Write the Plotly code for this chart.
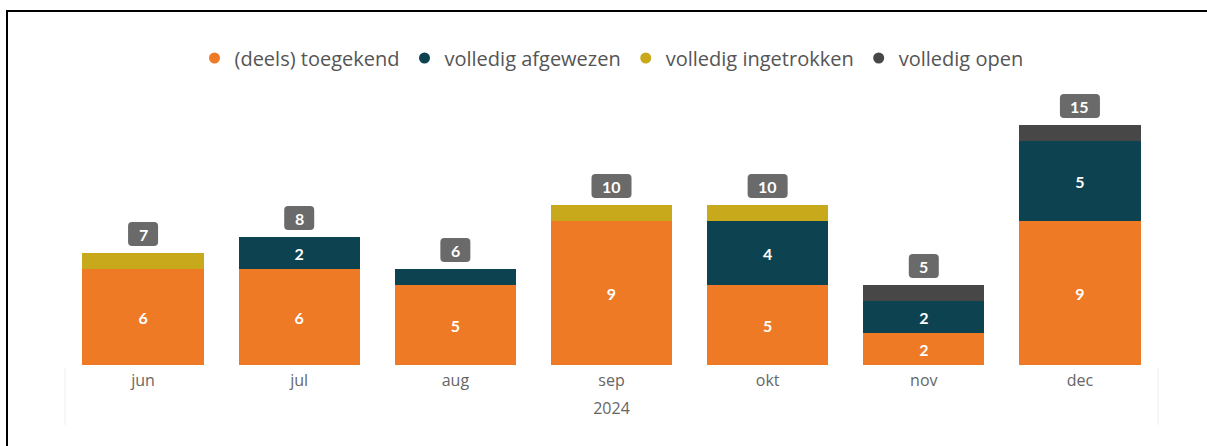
import plotly.graph_objects as go

months = ["jun", "jul", "aug", "sep", "okt", "nov", "dec"]
toegekend = [6, 6, 5, 9, 5, 2, 9]
afgewezen = [0, 2, 1, 0, 4, 2, 5]
ingetrokken = [1, 0, 0, 1, 1, 0, 0]
open_ = [0, 0, 0, 0, 0, 1, 1]
year_label = "2024"

series = [
    ("(deels) toegekend", toegekend, "#EE7A26"),
    ("volledig afgewezen", afgewezen, "#0D4351"),
    ("volledig ingetrokken", ingetrokken, "#C8A91B"),
    ("volledig open", open_, "#474747"),
]

FONT = "Open Sans"
NUMFONT = "Lato"
TOP = 80
BASE = 365
PXU = 16
plot_h = BASE - TOP

fig = go.Figure()
for name, vals, color in series:
    fig.add_trace(go.Bar(
        x=months, y=vals, name=name, showlegend=False, legendgroup=name,
        marker=dict(color=color, line=dict(width=0)),
        text=[str(v) if v >= 2 else "" for v in vals],
        textposition="inside", insidetextanchor="middle", textangle=0,
        textfont=dict(family=NUMFONT, size=16, color="white", weight="bold"),
        constraintext="none",
    ))
# legend entries with round markers
for name, vals, color in series:
    fig.add_trace(go.Scatter(
        x=[months[0]], y=[None], mode="markers", name=name, legendgroup=name,
        marker=dict(symbol="circle", size=11, color=color), hoverinfo="skip",
    ))

totals = [a + b + c + d for a, b, c, d in zip(toegekend, afgewezen, ingetrokken, open_)]

def rounded(w, h, r, y0):
    x0, x1 = -w / 2, w / 2
    y1 = y0 + h
    return (f"M {x0+r},{y0} L {x1-r},{y0} Q {x1},{y0} {x1},{y0+r} "
            f"L {x1},{y1-r} Q {x1},{y1} {x1-r},{y1} L {x0+r},{y1} "
            f"Q {x0},{y1} {x0},{y1-r} L {x0},{y0+r} Q {x0},{y0} {x0+r},{y0} Z")

for m, t in zip(months, totals):
    w = 30 if t < 10 else 40
    fig.add_shape(type="path", xref="x", yref="y", xsizemode="pixel", ysizemode="pixel",
                  xanchor=m, yanchor=t, path=rounded(w, 24, 4, 7),
                  fillcolor="#6A6A6A", line=dict(width=0), layer="above")
    fig.add_annotation(x=m, y=t, text=f"<b>{t}</b>", showarrow=False, yshift=19,
                       font=dict(family=NUMFONT, size=16, color="white"))

# frame and faint axis box lines
fig.add_shape(type="rect", xref="paper", yref="paper", x0=(7 - 65) / 1093, x1=1.2,
              y0=-0.6, y1=(BASE - 11) / plot_h,
              line=dict(color="black", width=2), layer="below")
for xp in (0.0, 1.0):
    fig.add_shape(type="line", xref="paper", yref="paper", x0=xp, x1=xp,
                  y0=-3 / plot_h, y1=-60 / plot_h,
                  line=dict(color="#EEEEEE", width=1))

fig.update_layout(
    barmode="stack", bargap=0.224,
    width=1207, height=446,
    margin=dict(l=65, r=49, t=TOP, b=446 - BASE),
    paper_bgcolor="white", plot_bgcolor="white",
    font=dict(family=FONT, color="#666666"),
    showlegend=True,
    legend=dict(orientation="h", x=0.5, xanchor="center", y=(BASE - 58) / plot_h, yanchor="middle",
                font=dict(family=FONT, size=20, color="#555555"),
                itemwidth=30, traceorder="normal", itemclick=False),
    xaxis=dict(showline=False, ticks="", tickfont=dict(size=16, color="#666666"),
               ticklabelstandoff=4,
               title=dict(text=year_label, font=dict(size=16, color="#666666"), standoff=12)),
    yaxis=dict(visible=False, range=[0, plot_h / PXU], fixedrange=True),
)
fig.write_html("out.html", config={"displayModeBar": False},
               post_script="document.body.style.margin='0';")
